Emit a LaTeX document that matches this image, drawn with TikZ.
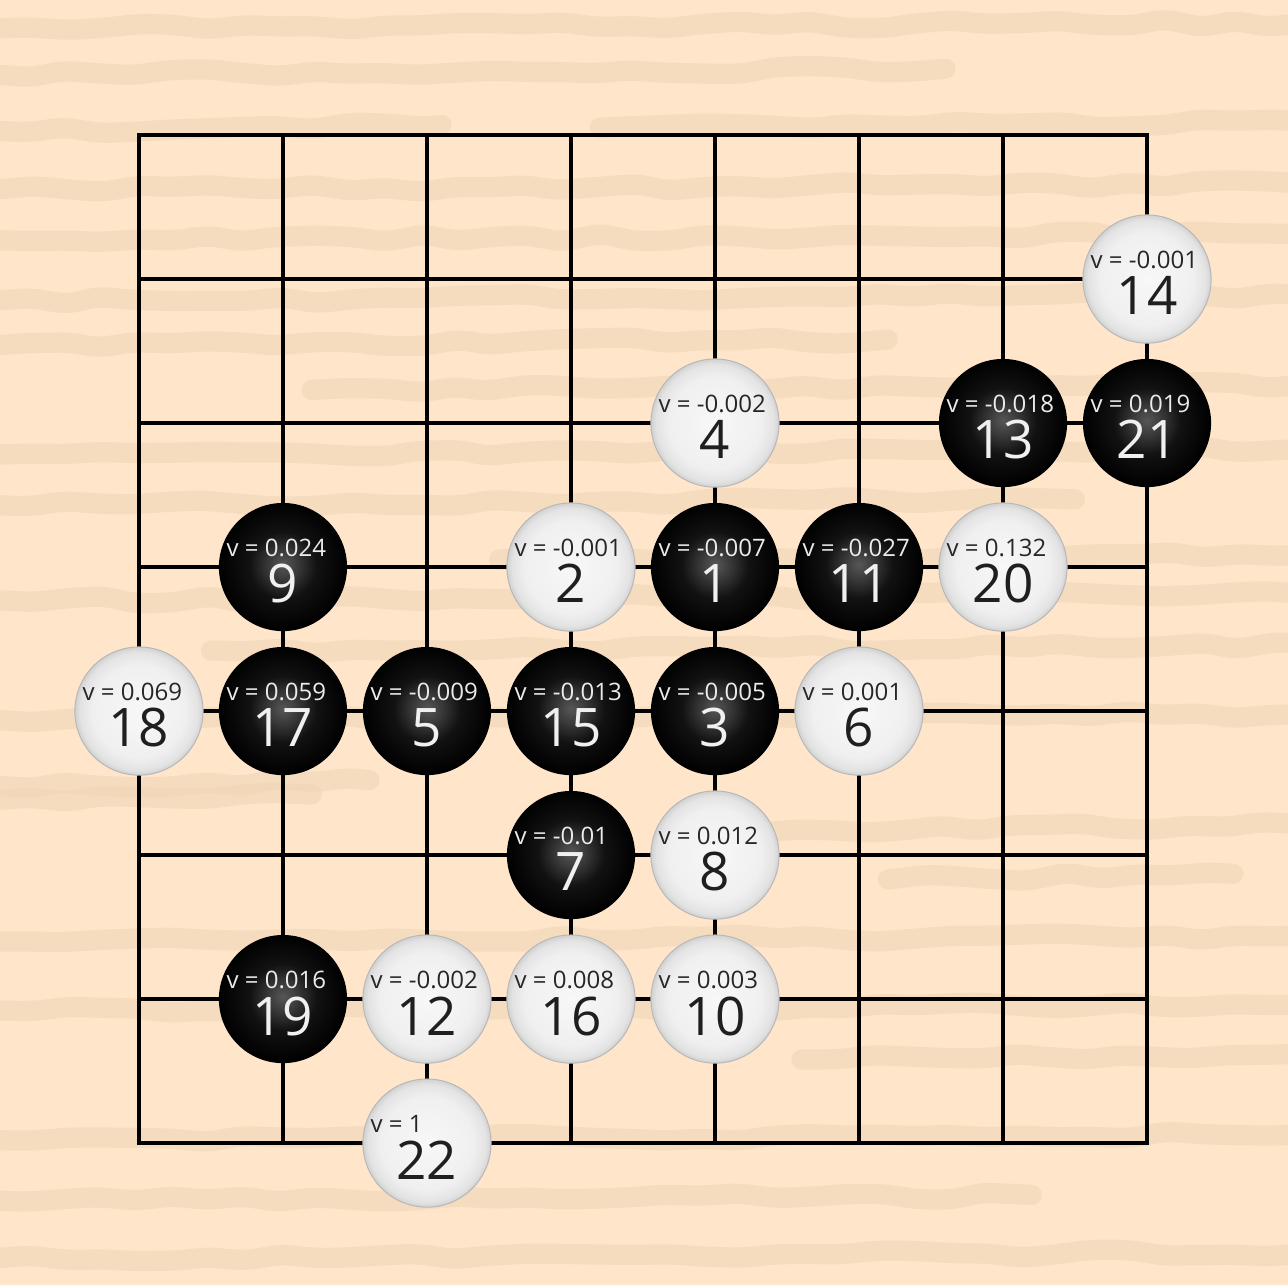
\documentclass[tikz,border=0pt]{standalone}
\usepackage{fontspec}
\setmainfont{Open Sans}
\usetikzlibrary{decorations.pathmorphing}

\definecolor{board}{RGB}{255,230,203}
\definecolor{grain}{RGB}{240,214,182}

% stone shadings (25bp = rim of the stone)
\pgfdeclareradialshading{blackstone}{\pgfpoint{0bp}{1bp}}{%
  color(0bp)=(black!66); color(6bp)=(black!78); color(13bp)=(black!93);
  color(25bp)=(black); color(50bp)=(black)}
\pgfdeclareradialshading{whitestone}{\pgfpoint{0bp}{0bp}}{%
  color(0bp)=(black!3); color(18bp)=(black!6); color(23bp)=(black!11);
  color(25bp)=(black!18); color(50bp)=(black!18)}

\tikzset{
  gridline/.style={line width=1.3pt},
  boardedge/.style={line width=1.9pt},
  streak/.style={grain, line width=8pt, line cap=round, opacity=0.6,
    decorate, decoration={random steps, segment length=14pt, amplitude=1.6pt},
    rounded corners=4pt},
  wstone/.style={circle, minimum size=1.78cm, inner sep=0pt, shading=whitestone, draw=black!28, line width=0.4pt},
  bstone/.style={circle, minimum size=1.78cm, inner sep=0pt, shading=blackstone},
  wval/.style={anchor=base west, inner sep=0pt, text=black!85, font=\fontsize{9.5}{11}\selectfont},
  bval/.style={anchor=base west, inner sep=0pt, text=white!92!black, font=\fontsize{9.5}{11}\selectfont},
  wnum/.style={anchor=base, inner sep=0pt, text=black!88, font=\fontsize{21}{24}\selectfont},
  bnum/.style={anchor=base, inner sep=0pt, text=white!94!black, font=\fontsize{21}{24}\selectfont}
}

% \stone{colour}{name}{position}{value}{move}
\newcommand{\stone}[5]{%
  \node[#1stone] (#2) at (#3) {};
  \node[#1val] (#2v) at ([xshift=-22.5pt, yshift=4.3pt]#2.center) {v = #4};
  \node[#1num] (#2n) at ([yshift=-14.2pt]#2.center) {#5};
}

\begin{document}
\begin{tikzpicture}[x=2cm, y=2cm]

  % board and wood grain
  \coordinate (sw) at (-0.965,-7.986);
  \coordinate (ne) at (7.979,0.9375);
  \useasboundingbox (sw) rectangle (ne);
  \fill[board] (sw) rectangle (ne);
  \pgfmathsetseed{7}
  \begin{scope}
    \clip (sw) rectangle (ne);
    \foreach \y/\a/\b in {0.74/-1/8.1, 0.42/-1/5.6, 0.03/-1/2.1, 0.05/3.2/8.1,
        -0.38/-1/8.1, -0.73/-1/8.1, -1.15/-1/8.1, -1.46/-1/5.2, -1.77/1.2/8.1,
        -2.22/-1/8.1, -2.57/-1/6.5, -2.95/2.5/8.1, -3.23/-1/8.1, -3.58/0.5/8.1,
        -4.06/-1/8.1, -4.52/-1/1.6, -4.62/-1/1.2, -4.83/4.1/8.1, -5.17/5.2/7.6,
        -5.6/-1/8.1, -6.08/-1/8.1, -6.42/4.6/8.1, -6.98/-1/8.1, -7.4/-1/6.2,
        -7.8/-1/8.1}
      \draw[streak] (\a,\y) -- (\b,\y+0.04);
  \end{scope}

  % grid
  \foreach \i in {1,...,6} {
    \draw[gridline] (\i,0) -- (\i,-7);
    \draw[gridline] (0,-\i) -- (7,-\i);
  }
  \draw[boardedge] (0,0) rectangle (7,-7);

  % stones
  \stone{w}{m14}{7,-1}{-0.001}{14}
  \stone{w}{m4}{4,-2}{-0.002}{4}
  \stone{b}{m13}{6,-2}{-0.018}{13}
  \stone{b}{m21}{7,-2}{0.019}{21}
  \stone{b}{m9}{1,-3}{0.024}{9}
  \stone{w}{m2}{3,-3}{-0.001}{2}
  \stone{b}{m1}{4,-3}{-0.007}{1}
  \stone{b}{m11}{5,-3}{-0.027}{11}
  \stone{w}{m20}{6,-3}{0.132}{20}
  \stone{w}{m18}{0,-4}{0.069}{18}
  \stone{b}{m17}{1,-4}{0.059}{17}
  \stone{b}{m5}{2,-4}{-0.009}{5}
  \stone{b}{m15}{3,-4}{-0.013}{15}
  \stone{b}{m3}{4,-4}{-0.005}{3}
  \stone{w}{m6}{5,-4}{0.001}{6}
  \stone{b}{m7}{3,-5}{-0.01}{7}
  \stone{w}{m8}{4,-5}{0.012}{8}
  \stone{b}{m19}{1,-6}{0.016}{19}
  \stone{w}{m12}{2,-6}{-0.002}{12}
  \stone{w}{m16}{3,-6}{0.008}{16}
  \stone{w}{m10}{4,-6}{0.003}{10}
  \stone{w}{m22}{2,-7}{1}{22}

\end{tikzpicture}
\end{document}
